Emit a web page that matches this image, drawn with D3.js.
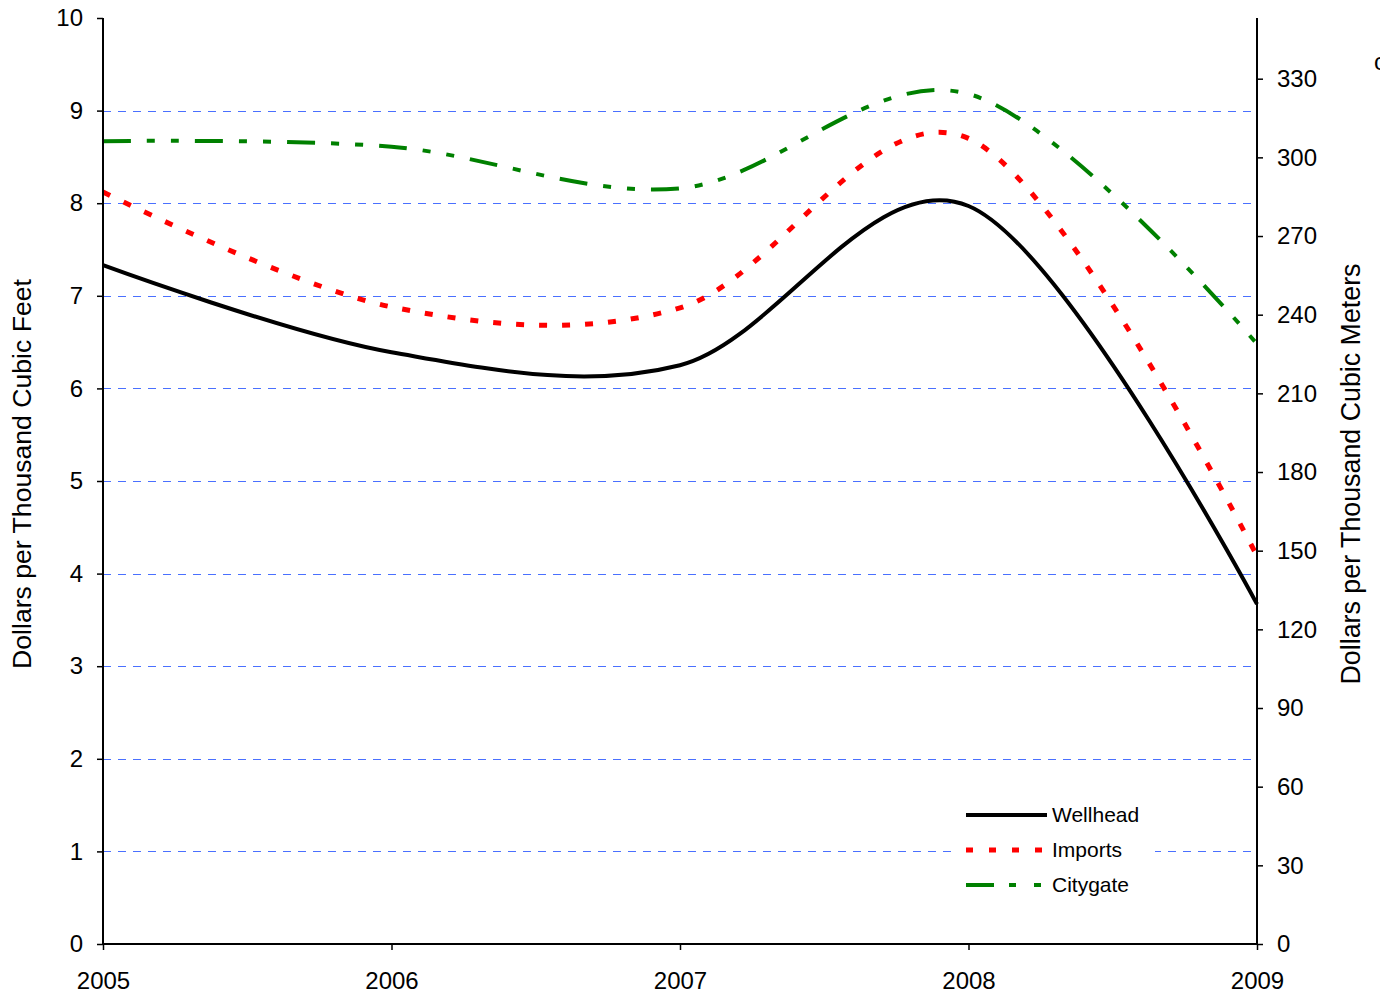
<!DOCTYPE html>
<html>
<head>
<meta charset="utf-8">
<script src="https://cdn.jsdelivr.net/npm/d3@7"></script>
<style>
  body { margin: 0; background: #fff; }
  svg { display: block; font-family: "Liberation Sans", Arial, sans-serif; }
</style>
</head>
<body>
<div id="viz"></div>
<script>
// annual average prices, dollars per thousand cubic feet
let years = [2005, 2006, 2007, 2008, 2009];
let wellhead = [7.33, 6.39, 6.25, 7.97, 3.67];
let imports = [8.12, 6.88, 6.87, 8.7, 4.19];
let citygate = [8.67, 8.61, 8.16, 9.18, 6.48];

let leftTicks = d3.range(0, 11);
let rightTicks = d3.range(0, 331, 30);
let gridValues = d3.range(1, 10);
let seriesNames = ["Wellhead", "Imports", "Citygate"];

const width = 1380,
  height = 997;
const margin = { left: 103, right: 123, top: 18, bottom: 53 };
const innerW = width - margin.left - margin.right;
const innerH = height - margin.top - margin.bottom;

let svg = d3
  .select("#viz")
  .append("svg")
  .attr("width", width)
  .attr("height", height);

let x = d3.scaleLinear().domain([2005, 2009]).range([0, innerW]);
let y = d3.scaleLinear().domain([0, 10]).range([innerH, 0]);
// cubic meters axis: 1 Mcf = 28.3168 m3
let y2 = d3.scaleLinear().domain([0, 10 * 35.3147]).range([innerH, 0]);

let g = svg
  .append("g")
  .attr("transform", `translate(${margin.left},${margin.top})`);

// gridlines (snapped to pixel rows so they stay blue)
g.selectAll(".grid")
  .data(gridValues)
  .join("line")
  .attr("class", "grid")
  .attr("x1", 0)
  .attr("x2", innerW)
  .attr("y1", (d) => Math.round(y(d)) + 0.5)
  .attr("y2", (d) => Math.round(y(d)) + 0.5)
  .attr("stroke", "#4a70ff")
  .attr("stroke-width", 1)
  .attr("shape-rendering", "crispEdges")
  .attr("stroke-dasharray", "8,7");

let series = [
  { name: "Wellhead", values: wellhead, color: "#000", dash: null, w: 4 },
  { name: "Imports", values: imports, color: "#ff0000", dash: "8,15", w: 5 },
  { name: "Citygate", values: citygate, color: "#008000", dash: "28,16,8,16,8,16", w: 4 },
];

let line = d3
  .line()
  .x((d) => x(d[0]))
  .y((d) => y(d[1]))
  .curve(d3.curveCatmullRom.alpha(0));

series.forEach((s) => {
  g.append("path")
    .datum(years.map((yr, i) => [yr, s.values[i]]))
    .attr("d", line)
    .attr("fill", "none")
    .attr("stroke", s.color)
    .attr("stroke-width", s.w)
    .attr("stroke-dasharray", s.dash);
});

// axes
let fontSize = 24;
let left = g
  .append("g")
  .call(d3.axisLeft(y).tickValues(leftTicks).tickSize(6).tickPadding(14));
let right = g
  .append("g")
  .attr("transform", `translate(${innerW},0)`)
  .call(d3.axisRight(y2).tickValues(rightTicks).tickSize(6).tickPadding(14));
let bottom = g
  .append("g")
  .attr("transform", `translate(0,${innerH})`)
  .call(d3.axisBottom(x).tickValues(years).tickFormat(d3.format("d")).tickSize(6).tickPadding(22));

[left, right, bottom].forEach((a) => {
  a.select(".domain").attr("stroke", "#000").attr("stroke-width", 2);
  a.selectAll(".tick line").attr("stroke", "#000").attr("stroke-width", 1.5);
  a.selectAll(".tick text")
    .attr("fill", "#000")
    .attr("font-size", fontSize)
    .attr("font-family", "Liberation Sans, Arial, sans-serif");
});
// excel-style axis lines without end caps
left.select(".domain").attr("d", `M0,${innerH}V0`);
right.select(".domain").attr("d", `M0,${innerH}V0`);
bottom.select(".domain").attr("d", `M0,0H${innerW}`);

// axis titles
svg
  .append("text")
  .attr("transform", `translate(31,474) rotate(-90)`)
  .attr("text-anchor", "middle")
  .attr("font-size", 26.6)
  .text("Dollars per Thousand Cubic Feet");
svg
  .append("text")
  .attr("transform", `translate(1360,474) rotate(-90)`)
  .attr("text-anchor", "middle")
  .attr("font-size", 26.8)
  .text("Dollars per Thousand Cubic Meters");

// clipped label at the right edge
svg.append("text").attr("x", 1374).attr("y", 70).attr("font-size", 24).text("c");

// legend
let lg = svg.append("g").attr("transform", "translate(955,795)");
lg.append("rect").attr("width", 200).attr("height", 105).attr("fill", "#fff");
lg.selectAll("line")
  .data(series)
  .join("line")
  .attr("x1", 11)
  .attr("x2", 92)
  .attr("y1", (d, i) => 20 + i * 35)
  .attr("y2", (d, i) => 20 + i * 35)
  .attr("stroke", (d) => d.color)
  .attr("stroke-width", (d) => d.w)
  .attr("stroke-dasharray", (d) => (d.name === "Citygate" ? "28,15,7,18,7,18" : d.name === "Imports" ? "7,16" : null));
lg.selectAll("text")
  .data(seriesNames)
  .join("text")
  .attr("x", 97)
  .attr("y", (d, i) => 20 + i * 35 + 7)
  .attr("font-size", 21)
  .text((d) => d);
</script>
</body>
</html>
